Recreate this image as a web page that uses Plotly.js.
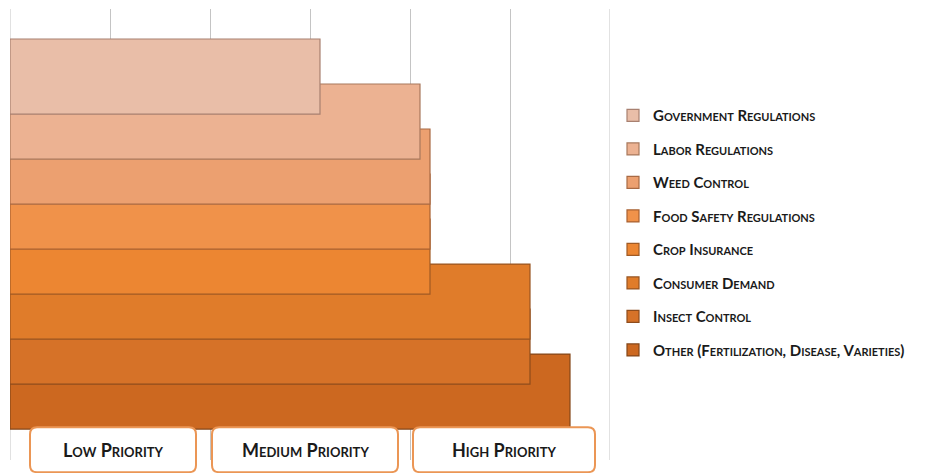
<!DOCTYPE html>
<html>
<head>
<meta charset="utf-8">
<script src="https://cdn.plot.ly/plotly-3.0.1.min.js"></script>
<style>html,body{margin:0;padding:0;background:#fff;}#chart{width:930px;height:473px;}</style>
</head>
<body>
<div id="chart"></div>
<script>
// ---- data ----
const categories = [
  "Government Regulations",
  "Labor Regulations",
  "Weed Control",
  "Food Safety Regulations",
  "Crop Insurance",
  "Consumer Demand",
  "Insect Control",
  "Other (Fertilization, Disease, Varieties)"
];
const scores = [1.55, 2.05, 2.1, 2.1, 2.1, 2.6, 2.6, 2.8];
const priorityLabels = ["Low Priority", "Medium Priority", "High Priority"];

// ---- styles ----
const barColors = ["#e9bea8", "#ecb292", "#eca070", "#f0924a", "#ec8632", "#e07c2a", "#d67228", "#cc6820"];
const edgeColors = ["#a88070", "#a8785c", "#a86a44", "#a86030", "#a05a24", "#985420", "#8e4c1c", "#844618"];
const fontFam = "Lato, 'Open Sans', sans-serif";

const traces = [];
for (let i = categories.length - 1; i >= 0; i--) {
  traces.push({
    type: "bar",
    orientation: "h",
    name: categories[i],
    y: [categories[i]],
    x: [scores[i]],
    width: 1.667,
    legendgroup: "g" + i,
    legendrank: i + 1,
    marker: { color: barColors[i], line: { color: edgeColors[i], width: 1.2 } },
    hoverinfo: "x+name"
  });
}

function roundRect(cx, w, h, r) {
  const x0 = cx - w / 2, x1 = cx + w / 2, y0 = -h / 2, y1 = h / 2;
  return `M ${x0 + r},${y0} L ${x1 - r},${y0} Q ${x1},${y0} ${x1},${y0 + r} ` +
         `L ${x1},${y1 - r} Q ${x1},${y1} ${x1 - r},${y1} L ${x0 + r},${y1} ` +
         `Q ${x0},${y1} ${x0},${y1 - r} L ${x0},${y0 + r} Q ${x0},${y0} ${x0 + r},${y0} Z`;
}
const boxW = [166, 186, 182];
const boxShift = [3, -5, -6];
const boxY = 0.023;
const shapes = [
  { type: "line", layer: "below", xref: "x", x0: 0, x1: 0, yref: "paper", y0: 0, y1: 1,
    line: { color: "#c4c4c4", width: 1 } },
  { type: "line", layer: "below", xref: "x", x0: 3, x1: 3, yref: "paper", y0: 0, y1: 1,
    line: { color: "#c4c4c4", width: 1 } }
];
const annotations = [];
priorityLabels.forEach((t, i) => {
  shapes.push({
    type: "path", layer: "above",
    xref: "x", xsizemode: "pixel", xanchor: i + 0.5,
    yref: "paper", ysizemode: "pixel", yanchor: boxY,
    path: roundRect(boxShift[i], boxW[i], 45, 7),
    fillcolor: "#ffffff",
    line: { color: "#eb9655", width: 2 }
  });
  annotations.push({
    text: t, xref: "x", x: i + 0.5, xshift: boxShift[i],
    yref: "paper", y: boxY, yanchor: "middle", xanchor: "center",
    showarrow: false,
    font: { family: fontFam, size: 18, color: "#1a1a1a", weight: 700, variant: "small-caps" }
  });
});

const layout = {
  width: 930, height: 473,
  margin: { l: 10, r: 320, t: 9, b: 13, autoexpand: false },
  paper_bgcolor: "#ffffff", plot_bgcolor: "#ffffff",
  barmode: "overlay",
  showlegend: true,
  xaxis: {
    range: [0, 3], tickvals: [0.5, 1, 1.5, 2, 2.5],
    showticklabels: false, showgrid: true, gridcolor: "#c4c4c4", gridwidth: 1,
    zeroline: false, showline: false, fixedrange: true
  },
  yaxis: {
    type: "category", categoryorder: "array", categoryarray: categories,
    range: [8.52, -1.5], autorange: false,
    showticklabels: false, showgrid: false, zeroline: false, showline: false
  },
  legend: {
    x: 1.005, xanchor: "left", y: 0.80, yanchor: "top",
    traceorder: "grouped", tracegroupgap: 11,
    font: { family: fontFam, size: 15, color: "#1a1a1a", weight: 700, variant: "small-caps" },
    bgcolor: "rgba(0,0,0,0)", itemwidth: 30
  },
  shapes: shapes,
  annotations: annotations
};

Plotly.newPlot("chart", traces, layout, { displayModeBar: false, staticPlot: true });
</script>
</body>
</html>
